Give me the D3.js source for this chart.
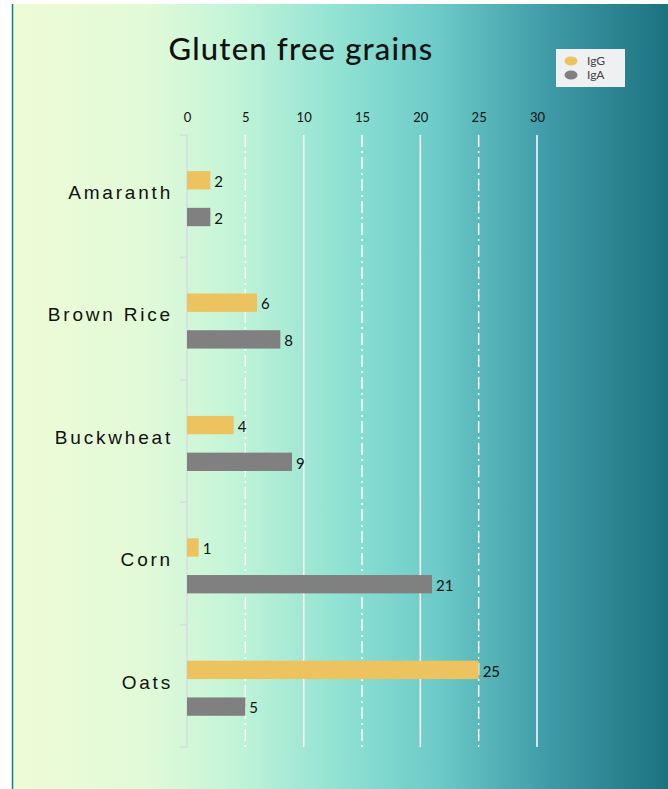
<!DOCTYPE html>
<html>
<head>
<meta charset="utf-8">
<script src="https://cdn.jsdelivr.net/npm/d3@7"></script>
<style>
  body { margin: 0; background: #fff; }
  svg { display: block; font-family: Lato, "Open Sans", sans-serif; }
</style>
</head>
<body>
<script>
// data
var grains = ['Amaranth', 'Brown Rice', 'Buckwheat', 'Corn', 'Oats'];
var seriesNames = ['IgG', 'IgA'];
var igG = [2, 6, 4, 1, 25];
var igA = [2, 8, 9, 21, 5];
var xTicks = [0, 5, 10, 15, 20, 25, 30];

var colors = { IgG: '#ecc35e', IgA: '#808080' };

var W = 668, H = 789;
var margin = {top: 135, left: 187, right: 131, bottom: 42};

var svg = d3.select('body').append('svg')
  .attr('width', W)
  .attr('height', H);

// background gradient
var defs = svg.append('defs');
var grad = defs.append('linearGradient')
  .attr('id', 'bg')
  .attr('x1', '0%').attr('x2', '100%')
  .attr('y1', '0%').attr('y2', '0%');
[[0, '#eefbd6'], [0.2, '#e2fad8'], [0.33, '#c5f5d8'], [0.5, '#90e2d3'],
 [0.65, '#6ccac8'], [0.82, '#3e9aa6'], [1, '#1d7280']].forEach(function(s) {
  grad.append('stop').attr('offset', s[0]).attr('stop-color', s[1]);
});

svg.append('rect')
  .attr('x', 12).attr('y', 4)
  .attr('width', W - 12).attr('height', H - 4)
  .attr('fill', 'url(#bg)');
svg.append('line')
  .attr('x1', 12.5).attr('x2', 12.5)
  .attr('y1', 4).attr('y2', H)
  .attr('stroke', '#1f7a88').attr('stroke-width', 1.5);

// scales
var x = d3.scaleLinear()
  .domain([0, 30])
  .range([margin.left, W - margin.right]);

var y = d3.scaleBand()
  .domain(grains)
  .range([margin.top, H - margin.bottom]);

var y1 = d3.scaleBand()
  .domain(seriesNames)
  .range([y.bandwidth() * 0.295, y.bandwidth() * 0.745])
  .paddingInner(0.5);

// gridlines
svg.append('g')
  .selectAll('line')
  .data(xTicks.filter(function(d) { return d > 0; }))
  .enter().append('line')
  .attr('x1', function(d) { return x(d); })
  .attr('x2', function(d) { return x(d); })
  .attr('y1', margin.top)
  .attr('y2', H - margin.bottom)
  .attr('stroke', '#ffffff')
  .attr('stroke-width', 1.5)
  .attr('stroke-dasharray', function(d) { return d % 10 === 0 ? null : '12,4,2,4'; });

// x axis on top
var xAxis = svg.append('g')
  .attr('transform', 'translate(0,' + (margin.top - 13) + ')')
  .call(d3.axisTop(x).tickValues(xTicks).tickSize(0).tickPadding(0));
xAxis.select('.domain').remove();
xAxis.selectAll('text')
  .style('font-size', '13px')
  .style('fill', '#111')
  .style('font-family', 'Lato, sans-serif');

// y axis
var yAxis = svg.append('g')
  .attr('transform', 'translate(' + margin.left + ',0)')
  .call(d3.axisLeft(y).tickSize(0).tickPadding(14));
yAxis.select('.domain')
  .attr('stroke', '#d8dde0')
  .attr('stroke-width', 1.5)
  .attr('d', 'M-7,' + margin.top + 'H0V' + (H - margin.bottom) + 'H-7');
yAxis.selectAll('text')
  .style('font-size', '19px')
  .style('letter-spacing', '2.8px')
  .style('fill', '#111')
  .attr('dy', '0.15em');

// boundary ticks between categories
svg.append('g')
  .selectAll('line')
  .data(grains.slice(1))
  .enter().append('line')
  .attr('x1', margin.left - 7)
  .attr('x2', margin.left)
  .attr('y1', function(d) { return y(d); })
  .attr('y2', function(d) { return y(d); })
  .attr('stroke', '#d8dde0')
  .attr('stroke-width', 1.5);

// bars
var rows = grains.map(function(g, i) {
  return {grain: g, values: [
    {key: 'IgG', value: igG[i]},
    {key: 'IgA', value: igA[i]}
  ]};
});

var group = svg.append('g').selectAll('g')
  .data(rows)
  .enter().append('g')
  .attr('transform', function(d) { return 'translate(0,' + y(d.grain) + ')'; });

group.selectAll('rect')
  .data(function(d) { return d.values; })
  .enter().append('rect')
  .attr('x', x(0))
  .attr('y', function(d) { return y1(d.key); })
  .attr('width', function(d) { return x(d.value) - x(0); })
  .attr('height', y1.bandwidth())
  .attr('fill', function(d) { return colors[d.key]; });

group.selectAll('text')
  .data(function(d) { return d.values; })
  .enter().append('text')
  .attr('x', function(d) { return x(d.value) + 4; })
  .attr('y', function(d) { return y1(d.key) + y1.bandwidth() / 2; })
  .attr('dy', '0.45em')
  .style('font-size', '15px')
  .style('fill', '#111')
  .text(function(d) { return d.value; });

// title
svg.append('text')
  .attr('x', 301)
  .attr('y', 60)
  .attr('text-anchor', 'middle')
  .style('font-size', '31px')
  .style('font-weight', 500)
  .style('letter-spacing', '1.2px')
  .style('fill', '#111')
  .text('Gluten free grains');

// legend
var legend = svg.append('g').attr('transform', 'translate(556,49)');
legend.append('rect')
  .attr('width', 69).attr('height', 38)
  .attr('fill', '#eef0f2');
legend.selectAll('g')
  .data(seriesNames)
  .enter().append('g')
  .attr('transform', function(d, i) { return 'translate(0,' + (12 + i * 14) + ')'; })
  .each(function(d) {
    var g = d3.select(this);
    g.append('ellipse')
      .attr('cx', 15).attr('cy', 0)
      .attr('rx', 6.5).attr('ry', 4.5)
      .attr('fill', colors[d]);
    g.append('text')
      .attr('x', 31).attr('y', 0)
      .attr('dy', '0.35em')
      .style('font-size', '12px')
      .style('fill', '#444')
      .text(d);
  });
</script>
</body>
</html>
